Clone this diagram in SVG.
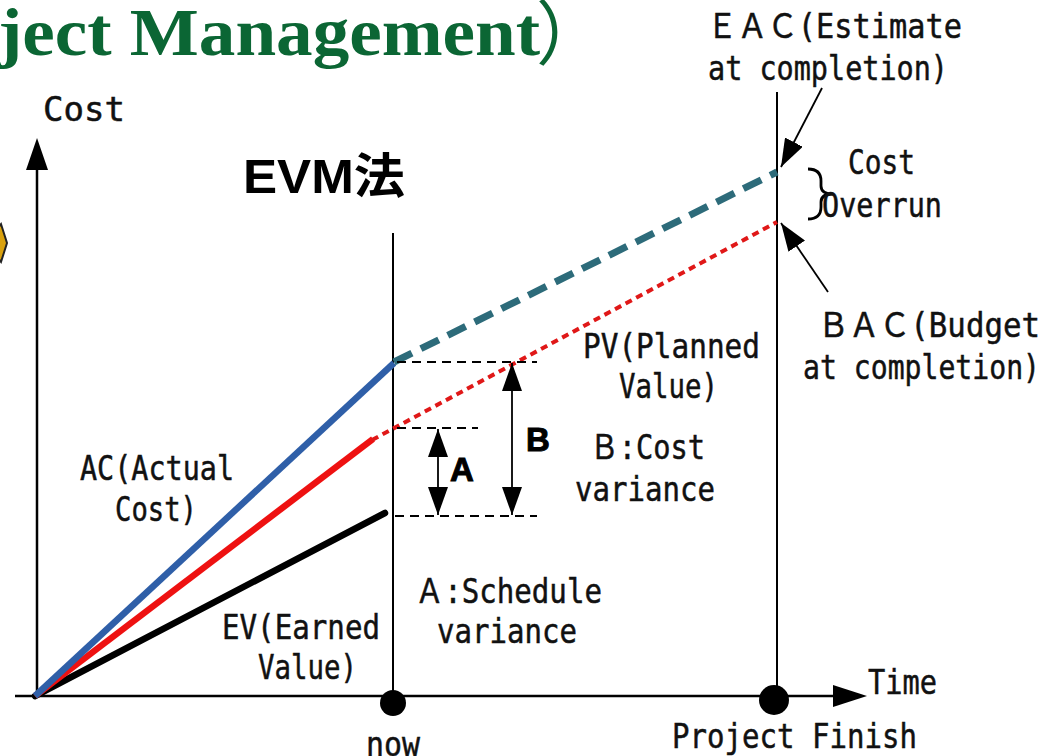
<svg xmlns="http://www.w3.org/2000/svg" width="1061" height="756" viewBox="0 0 1061 756">
<style>
.t{font-family:"DejaVu Sans Mono","Noto Sans CJK JP",monospace;font-size:34px;fill:#111;stroke:#111;stroke-width:0.5;}
.ax{stroke:#000;stroke-width:2.5;fill:none;}
.vl{stroke:#000;stroke-width:2;fill:none;}
.dh{stroke:#000;stroke-width:2.2;stroke-dasharray:9 6;fill:none;}
.ar{stroke:#000;stroke-width:1.8;fill:none;}
.big{font-family:"Liberation Sans",Arial,sans-serif;font-weight:bold;fill:#000;}
</style>
<defs>
<marker id="ahb" viewBox="0 0 28 20" refX="28" refY="10" markerWidth="28" markerHeight="20" markerUnits="userSpaceOnUse" orient="auto-start-reverse">
<path d="M0,0 L28,10 L0,20 z" fill="#000"/>
</marker>
</defs>
<rect width="1061" height="756" fill="#fff"/>
<g id="title">
<text x="-2" y="55" font-family="'Liberation Serif','Times New Roman',serif" font-weight="bold" font-size="68" fill="#0b6634" textLength="542" lengthAdjust="spacingAndGlyphs">ject Management</text>
<text x="536" y="59" font-family="'Noto Sans CJK JP',sans-serif" font-size="70" fill="#0b6634">）</text>
</g>
<g id="diamond">
<polygon points="-14,243 1,224 7,243 1,262" fill="#d9a10e" stroke="#222" stroke-width="2"/>
</g>
<g id="axes">
<line class="ax" x1="37" y1="697" x2="37" y2="168"/>
<polygon points="37,138 26,170 48,170" fill="#000"/>
<line class="ax" x1="15" y1="696" x2="835" y2="696"/>
<polygon points="867,696 833,685 833,707" fill="#000"/>
<text class="t" x="43" y="121" textLength="82" lengthAdjust="spacingAndGlyphs">Cost</text>
<text class="t" x="868" y="694" textLength="69" lengthAdjust="spacingAndGlyphs">Time</text>
</g>
<g id="now">
<line class="vl" x1="393" y1="233" x2="393" y2="696"/>
<circle cx="393" cy="703" r="13" fill="#000"/>
<text class="t" x="366" y="756" textLength="54" lengthAdjust="spacingAndGlyphs">now</text>
</g>
<g id="finish">
<line class="vl" x1="777" y1="92" x2="777" y2="696"/>
<circle cx="774" cy="700" r="15" fill="#000"/>
<text class="t" x="672" y="748" textLength="245" lengthAdjust="spacingAndGlyphs">Project Finish</text>
</g>
<g id="connectors">
<line x1="35" y1="696" x2="385" y2="513" stroke="#000" stroke-width="6.5" stroke-linecap="round"/>
<line x1="35" y1="696" x2="373" y2="439" stroke="#ee1111" stroke-width="6.5"/>
<line x1="372" y1="440" x2="777" y2="222" stroke="#e01818" stroke-width="4" stroke-dasharray="7 5"/>
<line x1="35" y1="696" x2="394" y2="363" stroke="#2f5fa8" stroke-width="6.5"/>
<line x1="394" y1="362" x2="777" y2="172" stroke="#2d6b7a" stroke-width="7" stroke-dasharray="20 10"/>
<line class="dh" x1="397" y1="362" x2="537" y2="362"/>
<line class="dh" x1="397" y1="428" x2="478" y2="428"/>
<line class="dh" x1="395" y1="516" x2="537" y2="516"/>
<line class="ar" x1="438" y1="429" x2="438" y2="515" marker-start="url(#ahb)" marker-end="url(#ahb)"/>
<line class="ar" x1="512" y1="363" x2="512" y2="515" marker-start="url(#ahb)" marker-end="url(#ahb)"/>
<line class="ar" x1="822" y1="88" x2="781" y2="167" marker-end="url(#ahb)"/>
<line class="ar" x1="828" y1="292" x2="781" y2="223" marker-end="url(#ahb)"/>
<path d="M808,169 Q821,169 821,181 L821,186 Q821,194 833,194 Q821,194 821,202 L821,207 Q821,219 808,219" fill="none" stroke="#000" stroke-width="2.8"/>
</g>
<g id="evm">
<text class="big" x="243" y="193" font-size="48" textLength="162" lengthAdjust="spacingAndGlyphs">EVM<tspan font-family="'Noto Sans CJK JP',sans-serif">法</tspan></text>
</g>
<g id="labelA">
<text class="big" x="450" y="481" font-size="33" stroke="#000" stroke-width="1">A</text>
</g>
<g id="labelB">
<text class="big" x="526" y="451" font-size="33" stroke="#000" stroke-width="1">B</text>
</g>
<g id="eac">
<text class="t" x="707" y="38" textLength="255" lengthAdjust="spacingAndGlyphs">ＥＡＣ(Estimate</text>
<text class="t" x="708" y="80" textLength="240" lengthAdjust="spacingAndGlyphs">at completion)</text>
</g>
<g id="overrun">
<text class="t" x="848" y="174" textLength="67" lengthAdjust="spacingAndGlyphs">Cost</text>
<text class="t" x="822" y="217" textLength="120" lengthAdjust="spacingAndGlyphs">Overrun</text>
</g>
<g id="bac">
<text class="t" x="818" y="337" textLength="222" lengthAdjust="spacingAndGlyphs">ＢＡＣ(Budget</text>
<text class="t" x="803" y="379" textLength="237" lengthAdjust="spacingAndGlyphs">at completion)</text>
</g>
<g id="pv">
<text class="t" x="583" y="358" textLength="177" lengthAdjust="spacingAndGlyphs">PV(Planned</text>
<text class="t" x="619" y="398" textLength="99" lengthAdjust="spacingAndGlyphs">Value)</text>
</g>
<g id="costvar">
<text class="t" x="590" y="459" textLength="115" lengthAdjust="spacingAndGlyphs">Ｂ:Cost</text>
<text class="t" x="575" y="501" textLength="140" lengthAdjust="spacingAndGlyphs">variance</text>
</g>
<g id="ac">
<text class="t" x="80" y="480" textLength="154" lengthAdjust="spacingAndGlyphs">AC(Actual</text>
<text class="t" x="115" y="521" textLength="82" lengthAdjust="spacingAndGlyphs">Cost)</text>
</g>
<g id="schedvar">
<text class="t" x="415" y="603" textLength="187" lengthAdjust="spacingAndGlyphs">Ａ:Schedule</text>
<text class="t" x="437" y="643" textLength="140" lengthAdjust="spacingAndGlyphs">variance</text>
</g>
<g id="ev">
<text class="t" x="222" y="639" textLength="158" lengthAdjust="spacingAndGlyphs">EV(Earned</text>
<text class="t" x="258" y="679" textLength="99" lengthAdjust="spacingAndGlyphs">Value)</text>
</g>
</svg>
